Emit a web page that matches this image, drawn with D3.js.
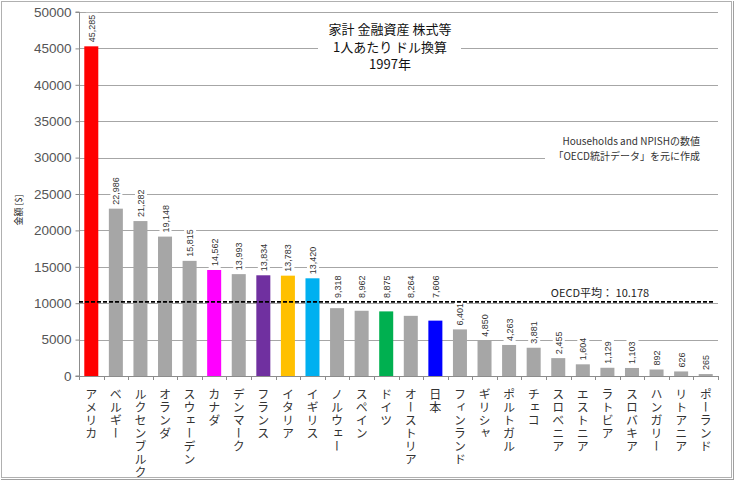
<!DOCTYPE html>
<html><head><meta charset="utf-8">
<script src="https://cdn.jsdelivr.net/npm/d3@7"></script>
<style>body{margin:0;background:#fff}svg{display:block}</style>
</head><body><svg id="c" width="735" height="481"></svg>
<script>
const countries = ["アメリカ","ベルギー","ルクセンブルク","オランダ","スウェーデン","カナダ","デンマーク","フランス","イタリア","イギリス","ノルウェー","スペイン","ドイツ","オーストリア","日本","フィンランド","ギリシャ","ポルトガル","チェコ","スロベニア","エストニア","ラトビア","スロバキア","ハンガリー","リトアニア","ポーランド"];
const values = [45285,22986,21282,19148,15815,14562,13993,13834,13783,13420,9318,8962,8875,8264,7606,6401,4850,4263,3881,2455,1604,1129,1103,892,626,265];
const barColors = ["#ff0000","#a6a6a6","#a6a6a6","#a6a6a6","#a6a6a6","#ff00ff","#a6a6a6","#7030a0","#ffc000","#00b0f0","#a6a6a6","#a6a6a6","#00b050","#a6a6a6","#0000ff","#a6a6a6","#a6a6a6","#a6a6a6","#a6a6a6","#a6a6a6","#a6a6a6","#a6a6a6","#a6a6a6","#a6a6a6","#a6a6a6","#a6a6a6"];
const yTicks = [0,5000,10000,15000,20000,25000,30000,35000,40000,45000,50000];
const oecdAvg = 10178;
const titleLines = ["家計 金融資産 株式等","1人あたり ドル換算","1997年"];
const noteLines = ["Households and NPISHの数値","「OECD統計データ」を元に作成"];
const yTitle = "金額 [$]";
const avgLabel = "OECD平均： 10.178";

const svg = d3.select("#c");
const jp = "'Noto Sans CJK JP','Noto Sans',sans-serif";
const L = 79, R = 718, T = 12, B = 376;
const x = d3.scaleBand().domain(countries).range([L, R]).paddingInner(0.43).paddingOuter(0.215);
const y = d3.scaleLinear().domain([0, 50000]).range([B, T]);

// frame
svg.append("rect").attr("x",1.5).attr("y",1.5).attr("width",730).attr("height",476).attr("fill","none").attr("stroke","#b0b0b0");
svg.append("line").attr("x1",733.5).attr("x2",733.5).attr("y1",1).attr("y2",479).attr("stroke","#a0a0a0");
svg.append("line").attr("x1",1).attr("x2",734).attr("y1",479.5).attr("y2",479.5).attr("stroke","#a0a0a0");

// gridlines
svg.append("g").selectAll("line").data(yTicks.filter(d=>d>0)).join("line")
  .attr("x1",L).attr("x2",R).attr("y1",d=>Math.round(y(d))+0.5).attr("y2",d=>Math.round(y(d))+0.5)
  .attr("stroke","#a6a6a6").attr("stroke-width",1);

// y axis
const ya = svg.append("g").attr("transform",`translate(${L+0.5},0)`)
  .call(d3.axisLeft(y).tickValues(yTicks).tickSize(4).tickPadding(4).tickFormat(d3.format("d")));
ya.select(".domain").attr("stroke","#8c8c8c").attr("d",`M-4,${T}H0V${B}H-4`);
ya.selectAll(".tick line").attr("stroke","#8c8c8c");
ya.selectAll("text").attr("font-family","'Liberation Sans',Arial,sans-serif").attr("font-size",13.5).attr("fill","#555");

// x axis
const xa = svg.append("g").attr("transform",`translate(0,${B+0.5})`)
  .call(d3.axisBottom(x).tickSize(0).tickFormat(""));
xa.select(".domain").attr("stroke","#8c8c8c").attr("d",`M${L},0H${R}`);
const step = x.step();
svg.append("g").selectAll("line").data(d3.range(countries.length+1)).join("line")
  .attr("x1",i=>Math.round(L+i*step)+0.5).attr("x2",i=>Math.round(L+i*step)+0.5)
  .attr("y1",B).attr("y2",B+4).attr("stroke","#8c8c8c");

// bars
svg.append("g").selectAll("rect").data(countries).join("rect")
  .attr("x",d=>x(d)).attr("width",x.bandwidth())
  .attr("y",(d,i)=>y(values[i])).attr("height",(d,i)=>B-y(values[i]))
  .attr("fill",(d,i)=>barColors[i]);

// value labels (lifted above the average line when they would cross it)
const fmt = d3.format(",");
const avgY = y(oecdAvg);
const vl = svg.append("g").selectAll("g").data(countries).join("g")
  .attr("transform",(d,i)=>{
    let by = y(values[i]) - 4;
    if (values[i] > 7000 && values[i] < 12500) by = Math.min(by, avgY - 4);
    return `translate(${x(d)+x.bandwidth()/2+3.5},${by}) rotate(-90)`;
  });
vl.each(function(d,i){
  const g = d3.select(this);
  const t = g.append("text").text(fmt(values[i])).attr("font-family","'Liberation Sans',Arial,sans-serif")
    .attr("font-size",9).attr("fill","#333");
  const bb = t.node().getBBox();
  g.insert("rect","text").attr("x",bb.x-2).attr("y",bb.y-1).attr("width",bb.width+4).attr("height",bb.height+2).attr("fill","#fff");
});

// x labels (vertical)
svg.append("g").selectAll("text").data(countries).join("text")
  .attr("x",d=>x(d)+x.bandwidth()/2).attr("y",388)
  .attr("style","writing-mode:vertical-rl;text-orientation:upright;letter-spacing:1px")
  .attr("font-family",jp).attr("font-size",12).attr("fill","#333")
  .text(d=>d);

// OECD avg line
svg.append("line").attr("x1",L).attr("x2",713).attr("y1",avgY).attr("y2",avgY)
  .attr("stroke","#000").attr("stroke-width",1.6).attr("stroke-dasharray","4,2");
svg.append("text").attr("x",600).attr("y",297).attr("text-anchor","middle")
  .attr("font-family",jp).attr("font-size",11).attr("fill","#222").text(avgLabel);

// title
const tg = svg.append("g");
tg.append("rect").attr("x",318).attr("y",19).attr("width",143).attr("height",55).attr("fill","#fff");
tg.selectAll("text").data(titleLines).join("text")
  .attr("x",390).attr("y",(d,i)=>34+i*17.5).attr("text-anchor","middle")
  .attr("font-family",jp).attr("font-size",13).attr("fill","#111").text(d=>d);

// note
const ng = svg.append("g");
ng.append("rect").attr("x",545).attr("y",130).attr("width",173).attr("height",36).attr("fill","#fff");
ng.selectAll("text").data(noteLines).join("text")
  .attr("x",700).attr("y",(d,i)=>145+i*15).attr("text-anchor","end")
  .attr("font-family",jp).attr("font-size",10).attr("fill","#333").text(d=>d);

// y title
svg.append("text").attr("transform","translate(22,210) rotate(-90)").attr("text-anchor","middle")
  .attr("font-family",jp).attr("font-size",9).attr("fill","#222").text(yTitle);
</script></body></html>
